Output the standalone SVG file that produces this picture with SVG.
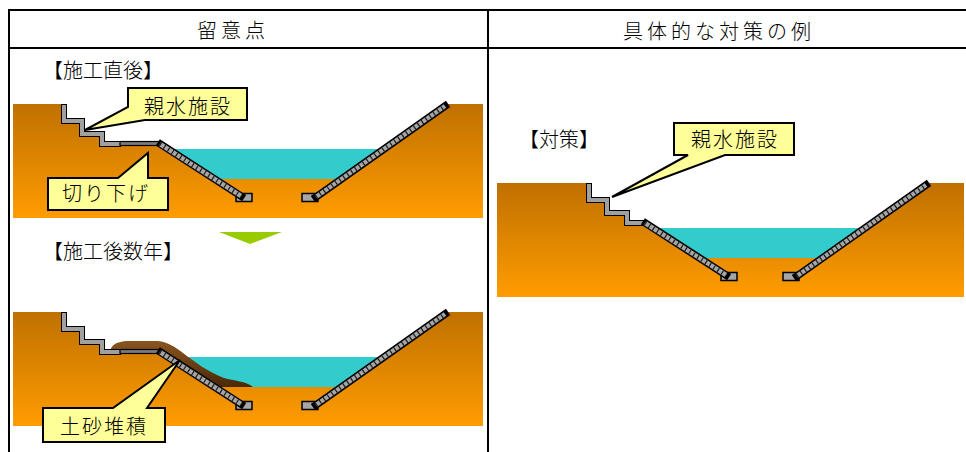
<svg xmlns="http://www.w3.org/2000/svg" width="966" height="452" viewBox="0 0 966 452">
  <style>
    text { font-family: "Noto Sans CJK JP", "Noto Sans", sans-serif; font-weight: 300; fill: #000; }
    .head { font-size: 20px; letter-spacing: 4px; text-anchor: middle; }
    .tag { font-size: 20px; }
    .call-t { font-size: 20px; letter-spacing: 2px; text-anchor: middle; }
    .rule { stroke: #000; stroke-width: 2; fill: none; }
    .water { fill: #33cccc; }
    .soil { fill: url(#soil); }
    .silt { fill: url(#silt); }
    .stair-o { fill: none; stroke: #000; stroke-width: 6; stroke-linejoin: miter; }
    .stair-i { fill: none; stroke: #a0a0a0; stroke-width: 4; stroke-linejoin: miter; }
    .plate { fill: #7a7a7a; stroke: #000; stroke-width: 1.2; }
    .toe { fill: #a6a6a6; stroke: #000; stroke-width: 1.5; }
    .strip-o { stroke: #000; stroke-width: 7.5; stroke-linecap: square; }
    .strip-i { stroke: #a6a6a6; stroke-width: 4.5; }
    .strip-h { stroke: #1a1a1a; stroke-width: 4.5; stroke-dasharray: 1.2 3.6; }
    .callout { fill: #ffff99; stroke: #000; stroke-width: 2; stroke-linejoin: miter; }
  </style>
  <defs>
    <linearGradient id="soil" x1="0" y1="0" x2="0" y2="1">
      <stop offset="0" stop-color="#bf7000"/>
      <stop offset="1" stop-color="#ff9c00"/>
    </linearGradient>
    <linearGradient id="silt" x1="0" y1="0" x2="0" y2="1">
      <stop offset="0" stop-color="#8a5520"/>
      <stop offset="1" stop-color="#4a2808"/>
    </linearGradient>
    <!-- stepped revetment blocks -->
    <g id="stairs">
      <path class="stair-o" d="M64,104 V121 H82 V134 H102 V144 H121"/>
      <path class="stair-i" d="M64,105 V121 H82 V134 H102 V144 H120"/>
    </g>
    <!-- left bank slope protection with toe block -->
    <g id="slopeL">
      <rect class="toe" x="236" y="193.5" width="16" height="8"/>
      <line class="strip-o" x1="161" y1="144.5" x2="241" y2="196"/>
      <line class="strip-i" x1="160" y1="144" x2="241" y2="196"/>
      <line class="strip-h" x1="160" y1="144" x2="241" y2="196"/>
    </g>
    <!-- right bank slope protection with toe block -->
    <g id="slopeR">
      <rect class="toe" x="302" y="193.5" width="16" height="8"/>
      <line class="strip-o" x1="316" y1="197" x2="445" y2="106"/>
      <line class="strip-i" x1="316" y1="197" x2="445" y2="106"/>
      <line class="strip-h" x1="316" y1="197" x2="445" y2="106"/>
    </g>
    <!-- channel cross-section (water + soil) -->
    <g id="section">
      <rect class="water" x="160" y="149" width="240" height="30"/>
      <path class="soil" d="M13,104 H64 V121 H82 V134 H102 V144 H160 L214,179 H341 L447,104 H483 V218 H13 Z"/>
    </g>
  </defs>

  <!-- table frame -->
  <g id="table">
    <line class="rule" x1="8" y1="10" x2="966" y2="10"/>
    <line class="rule" x1="8" y1="48" x2="966" y2="48"/>
    <line class="rule" x1="9" y1="9" x2="9" y2="452"/>
    <line class="rule" x1="488" y1="9" x2="488" y2="452"/>
    <text class="head" x="233" y="38">留意点</text>
    <text class="head" x="719" y="39">具体的な対策の例</text>
  </g>

  <!-- just after construction -->
  <g id="panel-after">
    <text class="tag" x="43" y="78">【施工直後】</text>
    <use href="#section"/>
    <use href="#stairs"/>
    <rect class="plate" x="120" y="141.5" width="40" height="4"/>
    <use href="#slopeL"/>
    <use href="#slopeR"/>
  </g>
  <g id="callout-facility-1">
    <path class="callout" d="M128,88 H247 V120 H145 L85,130 L128,107 Z"/>
    <text class="call-t" x="188" y="114">親水施設</text>
  </g>
  <g id="callout-cut">
    <path class="callout" d="M48,178 H118 L148,153 V178 H168 V210 H48 Z"/>
    <text class="call-t" x="106" y="201">切り下げ</text>
  </g>

  <!-- several years after construction -->
  <g id="panel-years">
    <text class="tag" x="43" y="259">【施工後数年】</text>
    <use href="#section" transform="translate(0,208)"/>
    <path class="silt" d="M110,352 C111,345 116,342 126,341 L158,341 C168,342 175,347 183,353 C195,362 208,372 224,378 C234,381 246,381 253,387 L214,387 L160,352 Z"/>
    <use href="#stairs" transform="translate(0,208)"/>
    <rect class="plate" x="120" y="349.5" width="40" height="4"/>
    <use href="#slopeL" transform="translate(0,208)"/>
    <use href="#slopeR" transform="translate(0,208)"/>
  </g>
  <g id="callout-silt">
    <path class="callout" d="M43,408 H113 L180,360 L147,408 H165 V442 H43 Z"/>
    <text class="call-t" x="104" y="434">土砂堆積</text>
  </g>

  <!-- countermeasure -->
  <g id="panel-measure">
    <text class="tag" x="519" y="147">【対策】</text>
    <rect class="water" x="650" y="228" width="230" height="30"/>
    <path class="soil" d="M497,183 H589 V200 H607 V213 H627 V223 H645 L700,258 H822 L928,183 H964 V297 H497 Z"/>
    <use href="#stairs" transform="translate(525,79)"/>
    <use href="#slopeL" transform="translate(485,79)"/>
    <use href="#slopeR" transform="translate(481,79)"/>
  </g>
  <g id="callout-facility-2">
    <path class="callout" d="M674,123 H794 V155 H725 L612,197 L688,155 H674 Z"/>
    <text class="call-t" x="735" y="147">親水施設</text>
  </g>

  <!-- transition marker -->
  <g id="connectors">
    <polygon points="219,232 282,232 250,244" fill="#99cc00"/>
  </g>
</svg>
